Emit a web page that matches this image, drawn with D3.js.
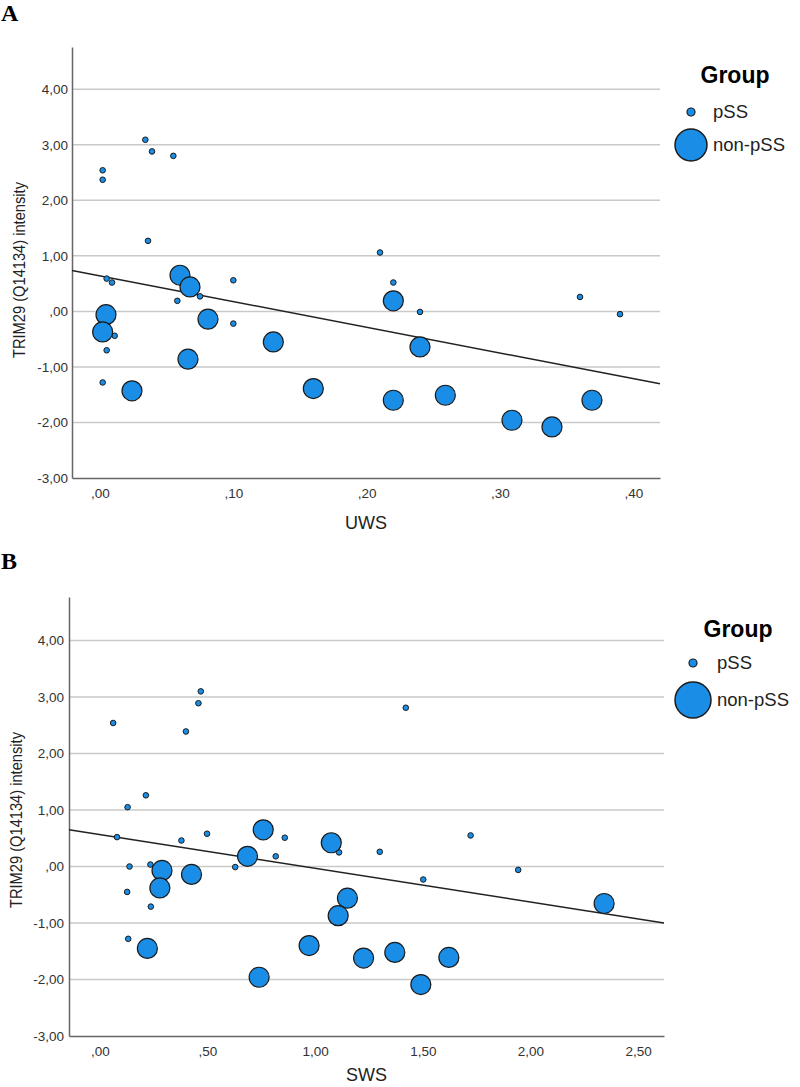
<!DOCTYPE html>
<html><head><meta charset="utf-8">
<script src="https://cdn.jsdelivr.net/npm/d3@7"></script>
<style>body{margin:0;background:#fff}svg{display:block}</style>
</head><body>
<svg id="c" width="800" height="1087"></svg>
<script>
// ---- data ----
const yTicks = [-3, -2, -1, 0, 1, 2, 3, 4];
const yTickLabels = ["-3,00", "-2,00", "-1,00", ",00", "1,00", "2,00", "3,00", "4,00"];
const uwsTicks = [0, 0.1, 0.2, 0.3, 0.4];
const uwsTickLabels = [",00", ",10", ",20", ",30", ",40"];
const swsTicks = [0, 0.5, 1, 1.5, 2, 2.5];
const swsTickLabels = [",00", ",50", "1,00", "1,50", "2,00", "2,50"];
const groups = ["pSS", "non-pSS"];

const uwsPSSx = [0.002, 0.002, 0.034, 0.039, 0.055, 0.036, 0.21, 0.005, 0.009, 0.075, 0.058, 0.10, 0.10, 0.011, 0.005, 0.002, 0.22, 0.24, 0.36, 0.39];
const uwsPSSy = [2.54, 2.37, 3.09, 2.88, 2.80, 1.27, 1.06, 0.59, 0.52, 0.27, 0.19, 0.56, -0.22, -0.44, -0.70, -1.28, 0.52, -0.01, 0.26, -0.05];
const uwsNonx = [0.060, 0.0675, 0.0045, 0.002, 0.081, 0.066, 0.13, 0.024, 0.16, 0.22, 0.22, 0.24, 0.259, 0.309, 0.339, 0.369];
const uwsNony = [0.65, 0.44, -0.06, -0.37, -0.14, -0.86, -0.55, -1.43, -1.39, -1.60, 0.19, -0.64, -1.51, -1.96, -2.08, -1.60];
const uwsFit = [0.64, -4.63]; // intercept, slope

const swsPSSx = [0.062, 0.40, 0.458, 0.469, 0.129, 0.214, 1.421, 0.080, 0.379, 0.498, 0.859, 0.817, 0.629, 1.111, 1.30, 0.138, 0.235, 0.127, 0.237, 0.132, 1.722, 1.502, 1.943];
const swsPSSy = [2.54, 2.39, 2.89, 3.10, 1.05, 1.26, 2.81, 0.52, 0.46, 0.58, 0.51, 0.18, -0.01, 0.25, 0.26, 0.00, 0.035, -0.45, -0.71, -1.28, 0.55, -0.23, -0.06];
const swsNonx = [0.759, 1.075, 0.686, 0.289, 0.279, 0.426, 1.15, 1.107, 0.221, 0.972, 0.74, 1.225, 1.37, 1.491, 1.621, 2.342];
const swsNony = [0.65, 0.42, 0.18, -0.07, -0.38, -0.14, -0.56, -0.87, -1.45, -1.40, -1.96, -1.62, -1.52, -2.09, -1.61, -0.655];
const swsFit = [0.565, -0.597];

// ---- drawing ----
const svg = d3.select("#c");
const FILL = "#1a8ee6", STROKE = "#1b1b1b";
const SANS = "Liberation Sans, Arial, sans-serif";

function panel(o) {
  const g = svg.append("g");
  const x = d3.scaleLinear().domain(o.xDom).range([o.left, o.right]);
  const y = d3.scaleLinear().domain(o.yDom).range([o.bottom, o.top]);

  g.append("text").attr("x", 1).attr("y", o.letterY).text(o.letter)
    .attr("font-family", "Liberation Serif, serif").attr("font-weight", "bold").attr("font-size", 24);

  // gridlines
  g.selectAll("line.grid").data(yTicks.filter(t => t > o.yDom[0])).enter().append("line")
    .attr("x1", o.left).attr("x2", o.right).attr("y1", d => y(d)).attr("y2", d => y(d))
    .attr("stroke", "#c9c9c9").attr("stroke-width", 1.5);

  // y axis
  const ya = d3.axisLeft(y).tickValues(yTicks).tickSize(0).tickPadding(o.yPad)
    .tickFormat((d, i) => yTickLabels[i]);
  const yg = g.append("g").attr("transform", `translate(${o.left},0)`).call(ya);
  yg.select(".domain").attr("stroke", "#666").attr("stroke-width", 1.5);
  yg.selectAll("text").attr("font-family", SANS).attr("font-size", 13.5).attr("fill", "#333");

  // x axis
  const xa = d3.axisBottom(x).tickValues(o.xTicks).tickSize(0).tickPadding(10)
    .tickFormat((d, i) => o.xLabels[i]);
  const xg = g.append("g").attr("transform", `translate(0,${o.bottom})`).call(xa);
  xg.select(".domain").attr("stroke", "#666").attr("stroke-width", 1.5);
  xg.selectAll("text").attr("font-family", SANS).attr("font-size", 13.5).attr("fill", "#333");

  // titles
  g.append("text").attr("x", (o.left + o.right) / 2).attr("y", o.xTitleY).attr("text-anchor", "middle")
    .attr("font-family", SANS).attr("font-size", 18).attr("fill", "#222").text(o.xTitle);
  g.append("text").attr("transform", `translate(${o.yTitleX},${o.yTitleY}) rotate(-90)`).attr("text-anchor", "middle")
    .attr("font-family", SANS).attr("font-size", 16.5).attr("fill", "#222")
    .attr("textLength", 176).attr("lengthAdjust", "spacingAndGlyphs")
    .text("TRIM29 (Q14134) intensity");

  // fit line
  const fx = o.xDom;
  g.append("line").attr("x1", x(fx[0])).attr("y1", y(o.fit[0] + o.fit[1] * fx[0]))
    .attr("x2", x(fx[1])).attr("y2", y(o.fit[0] + o.fit[1] * fx[1]))
    .attr("stroke", "#222").attr("stroke-width", 1.5);

  // points
  const small = o.px.map((v, i) => ({x: v, y: o.py[i]}));
  const big = o.nx.map((v, i) => ({x: v, y: o.ny[i]}));
  g.selectAll("circle.s").data(small).enter().append("circle")
    .attr("cx", d => x(d.x)).attr("cy", d => y(d.y)).attr("r", 2.8)
    .attr("fill", FILL).attr("stroke", STROKE).attr("stroke-width", 1);
  g.selectAll("circle.b").data(big).enter().append("circle")
    .attr("cx", d => x(d.x)).attr("cy", d => y(d.y)).attr("r", 10)
    .attr("fill", FILL).attr("stroke", STROKE).attr("stroke-width", 1.2);

  // legend
  const L = o.leg;
  g.append("text").attr("x", L.gx).attr("y", L.gy).attr("text-anchor", "middle")
    .attr("font-family", SANS).attr("font-weight", "bold").attr("font-size", 23).text("Group");
  g.append("circle").attr("cx", L.cx).attr("cy", L.y1).attr("r", 4).attr("fill", FILL).attr("stroke", STROKE).attr("stroke-width", 1.2);
  g.append("circle").attr("cx", L.cx).attr("cy", L.y2).attr("r", L.r2).attr("fill", FILL).attr("stroke", STROKE).attr("stroke-width", 1.5);
  [L.y1, L.y2].forEach((yy, i) => {
    g.append("text").attr("x", L.tx).attr("y", yy).attr("dy", "0.35em")
      .attr("font-family", SANS).attr("font-size", 18.5).attr("fill", "#222").text(groups[i]);
  });
}

panel({letter: "A", letterY: 21, left: 72, right: 660, top: 47, bottom: 478,
  xDom: [-0.021, 0.42], yDom: [-3, 4.76], xTicks: uwsTicks, xLabels: uwsTickLabels, yPad: 4,
  xTitle: "UWS", xTitleY: 529, yTitleX: 25, yTitleY: 270,
  px: uwsPSSx, py: uwsPSSy, nx: uwsNonx, ny: uwsNony, fit: uwsFit,
  leg: {gx: 735, gy: 83, cx: 691, y1: 112, y2: 145, r2: 16, tx: 713}});

panel({letter: "B", letterY: 569, left: 69, right: 664, top: 597, bottom: 1036,
  xDom: [-0.143, 2.62], yDom: [-3, 4.77], xTicks: swsTicks, xLabels: swsTickLabels, yPad: 5,
  xTitle: "SWS", xTitleY: 1081, yTitleX: 22, yTitleY: 820,
  px: swsPSSx, py: swsPSSy, nx: swsNonx, ny: swsNony, fit: swsFit,
  leg: {gx: 738, gy: 637, cx: 693, y1: 663, y2: 700, r2: 18, tx: 717}});
</script>
</body></html>
